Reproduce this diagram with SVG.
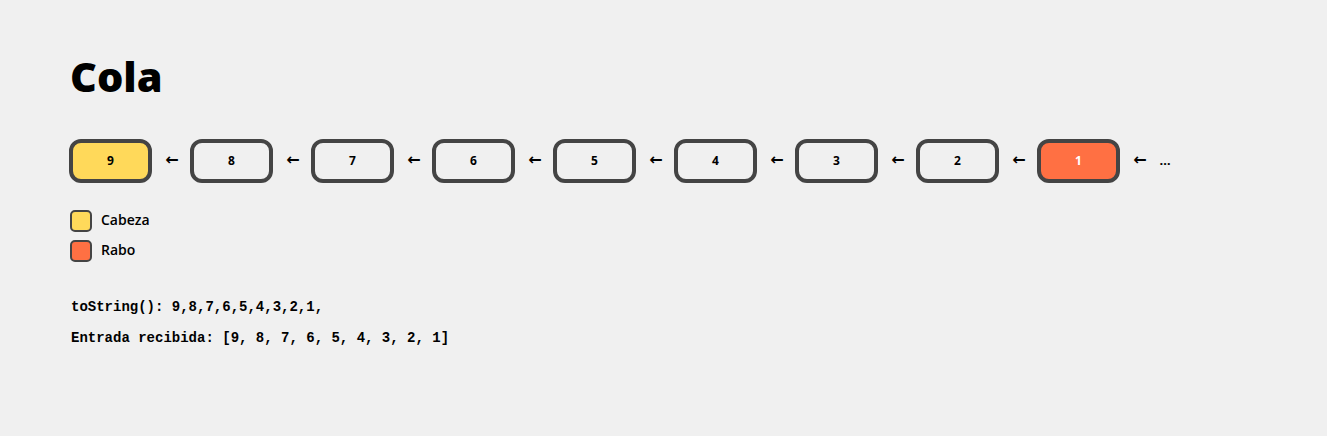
<svg xmlns="http://www.w3.org/2000/svg" width="1327" height="436" viewBox="0 0 1327 436">
<style>
.bg{fill:#f0f0f0}
.node rect{fill:#f0f0f0;stroke:#444;stroke-width:4}
.node text{font-family:"Open Sans","Liberation Sans",sans-serif;font-weight:bold;font-size:12px;fill:#000;text-anchor:middle}
.head rect{fill:#ffd95a}
.tail rect{fill:#ff7043}
.tail text{fill:#fff}
.arr{font-family:"DejaVu Sans","Liberation Sans",sans-serif;font-weight:bold;font-size:16px;fill:#000;text-anchor:middle}
.dots{font-family:"Open Sans","Liberation Sans",sans-serif;font-weight:bold;font-size:13px;fill:#000;text-anchor:middle}
.title{font-family:"Open Sans","Liberation Sans",sans-serif;font-weight:800;font-size:41.5px;fill:#000}
.leg{font-family:"Open Sans","Liberation Sans",sans-serif;font-size:14px;font-weight:600;fill:#000}
.mono{font-family:"Liberation Mono","DejaVu Sans Mono",monospace;font-weight:bold;font-size:14px;fill:#000}
</style>
<rect class="bg" x="0" y="0" width="1327" height="436"/>
<text class="title" x="70" y="92">Cola</text>
<g id="n9" class="node head"><rect x="71" y="141" width="79" height="40" rx="10"/><text x="110.5" y="165">9</text></g>
<g id="n8" class="node"><rect x="192" y="141" width="79" height="40" rx="10"/><text x="231.5" y="165">8</text></g>
<g id="n7" class="node"><rect x="313" y="141" width="79" height="40" rx="10"/><text x="352.5" y="165">7</text></g>
<g id="n6" class="node"><rect x="434" y="141" width="79" height="40" rx="10"/><text x="473.5" y="165">6</text></g>
<g id="n5" class="node"><rect x="555" y="141" width="79" height="40" rx="10"/><text x="594.5" y="165">5</text></g>
<g id="n4" class="node"><rect x="676" y="141" width="79" height="40" rx="10"/><text x="715.5" y="165">4</text></g>
<g id="n3" class="node"><rect x="797" y="141" width="79" height="40" rx="10"/><text x="836.5" y="165">3</text></g>
<g id="n2" class="node"><rect x="918" y="141" width="79" height="40" rx="10"/><text x="957.5" y="165">2</text></g>
<g id="n1" class="node tail"><rect x="1039" y="141" width="79" height="40" rx="10"/><text x="1078.5" y="165">1</text></g>
<g id="connectors">
<text class="arr" x="172" y="165">←</text>
<text class="arr" x="293" y="165">←</text>
<text class="arr" x="414" y="165">←</text>
<text class="arr" x="535" y="165">←</text>
<text class="arr" x="656" y="165">←</text>
<text class="arr" x="777" y="165">←</text>
<text class="arr" x="898" y="165">←</text>
<text class="arr" x="1019" y="165">←</text>
<text class="arr" x="1140" y="165">←</text>
<text class="dots" x="1165" y="165">…</text>
</g>
<g id="legend">
<rect x="71" y="211" width="20" height="20" rx="4" fill="#ffd95a" stroke="#444" stroke-width="2"/>
<text class="leg" x="101" y="225">Cabeza</text>
<rect x="71" y="241" width="20" height="20" rx="4" fill="#ff7043" stroke="#444" stroke-width="2"/>
<text class="leg" x="101" y="255">Rabo</text>
</g>
<text class="mono" x="71" y="311">toString(): 9,8,7,6,5,4,3,2,1,</text>
<text class="mono" x="71" y="342">Entrada recibida: [9, 8, 7, 6, 5, 4, 3, 2, 1]</text>
</svg>
